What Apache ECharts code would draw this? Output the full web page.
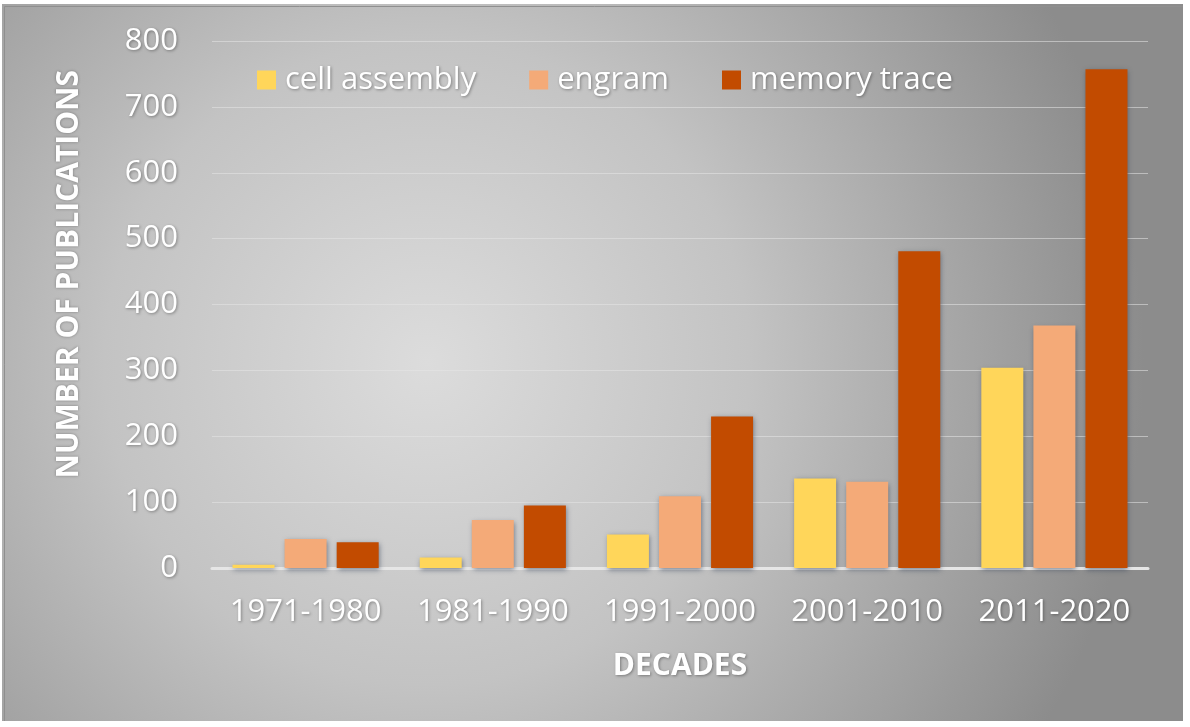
<!DOCTYPE html>
<html>
<head>
<meta charset="utf-8">
<script src="https://cdn.jsdelivr.net/npm/echarts@6/dist/echarts.min.js"></script>
<style>
  html, body { margin: 0; padding: 0; background: #ffffff; }
  #chart { position: absolute; left: 2px; top: 4px; width: 1181px; height: 717px; }
</style>
</head>
<body>
<div id="chart"></div>
<script>
const categories = ['1971-1980', '1981-1990', '1991-2000', '2001-2010', '2011-2020'];
const cellAssembly = [5, 16, 51, 136, 304];
const engram = [44, 73, 109, 131, 368];
const memoryTrace = [39, 95, 230, 481, 757];
const yTicks = { min: 0, max: 800, interval: 100 };

const chart = echarts.init(document.getElementById('chart'));
const FONT = '"Open Sans"';
const labelShadow = { textShadowColor: 'rgba(0,0,0,0.35)', textShadowBlur: 3, textShadowOffsetX: 1, textShadowOffsetY: 1 };
const barShadow = { shadowColor: 'rgba(40,55,80,0.55)', shadowBlur: 5, shadowOffsetX: 1, shadowOffsetY: 2 };

chart.setOption({
  animation: false,
  backgroundColor: {
    type: 'radial', x: 0.36, y: 0.5, r: 1.0,
    colorStops: [
      { offset: 0, color: '#dcdcdc' },
      { offset: 0.45, color: '#c3c3c3' },
      { offset: 1, color: '#8c8c8c' }
    ]
  },
  textStyle: { fontFamily: FONT },
  legend: {
    left: 255, top: 60, padding: 0,
    itemWidth: 19, itemHeight: 19, itemGap: 53,
    icon: 'rect',
    textStyle: Object.assign({ color: '#ffffff', fontSize: 31, lineHeight: 32, fontFamily: FONT, padding: [0, 0, 0, 4] }, labelShadow),
    data: ['cell assembly', 'engram', 'memory trace']
  },
  grid: { left: 210, right: 35, top: 37, bottom: 153 },
  xAxis: {
    type: 'category',
    data: categories,
    name: 'DECADES',
    nameLocation: 'middle',
    nameGap: 83,
    nameTextStyle: Object.assign({ color: '#ffffff', fontSize: 30, fontWeight: 'bold', fontFamily: FONT }, labelShadow),
    axisLine: { lineStyle: { color: '#e6e6e6', width: 3 } },
    axisTick: { show: false },
    axisLabel: Object.assign({ color: '#ffffff', fontSize: 31, lineHeight: 32, margin: 28, interval: 0, fontFamily: FONT }, labelShadow)
  },
  yAxis: {
    type: 'value',
    min: yTicks.min, max: yTicks.max, interval: yTicks.interval,
    axisLine: { show: false },
    axisTick: { show: false },
    splitLine: { lineStyle: { color: 'rgba(230,230,230,0.55)', width: 1 } },
    axisLabel: Object.assign({ color: '#ffffff', fontSize: 31, margin: 34, fontFamily: FONT }, labelShadow)
  },
  graphic: [
    {
      type: 'rect', left: 0, top: 0, silent: true,
      shape: { width: 1180, height: 716 },
      style: { fill: 'none', stroke: '#8f8f8f', lineWidth: 1 }
    },
    {
      type: 'text',
      left: 52, top: 66,
      rotation: Math.PI / 2,
      style: {
        text: 'NUMBER OF PUBLICATIONS',
        fill: '#ffffff', font: 'bold 30px "Open Sans"',
        textShadowColor: 'rgba(0,0,0,0.35)', textShadowBlur: 3
      }
    }
  ],
  series: [
    { name: 'cell assembly', type: 'bar', data: cellAssembly, barWidth: 42, barGap: '24%', barCategoryGap: '22%',
      itemStyle: Object.assign({ color: '#FFD65A' }, barShadow) },
    { name: 'engram', type: 'bar', data: engram, barWidth: 42, barGap: '24%',
      itemStyle: Object.assign({ color: '#F4AA78' }, barShadow) },
    { name: 'memory trace', type: 'bar', data: memoryTrace, barWidth: 42, barGap: '24%',
      itemStyle: Object.assign({ color: '#C24B00' }, barShadow) }
  ]
});
</script>
</body>
</html>
